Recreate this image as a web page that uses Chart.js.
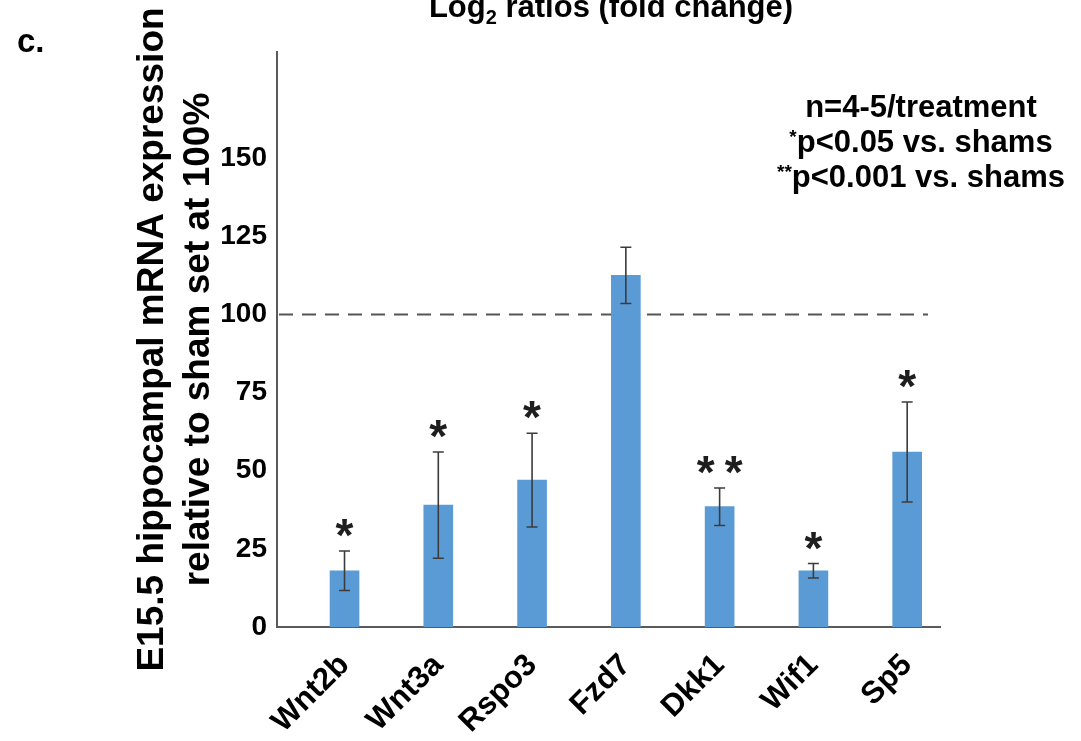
<!DOCTYPE html>
<html>
<head>
<meta charset="utf-8">
<script src="https://cdn.jsdelivr.net/npm/chart.js@4.4.1/dist/chart.umd.min.js"></script>
<style>
  html, body { margin: 0; padding: 0; background: #fff; }
  #wrap { width: 1081px; height: 741px; position: relative; }
</style>
</head>
<body>
<div id="wrap"><canvas id="chart" width="1081" height="741"></canvas></div>
<script>
// Gene panel and relative expression (sham = 100%)
const genes = ['Wnt2b', 'Wnt3a', 'Rspo3', 'Fzd7', 'Dkk1', 'Wif1', 'Sp5'];
const expression = [18, 39, 47, 112.5, 38.5, 18, 56];
const sem = [6.3, 17, 15, 9, 6, 2.3, 16];
const significance = ['*', '*', '*', '', '**', '*', '*'];
const yTicks = [0, 25, 50, 75, 100, 125, 150];
const shamLevel = 100;
const noteLines = [
  ['', 'n=4-5/treatment'],
  ['*', 'p<0.05 vs. shams'],
  ['**', 'p<0.001 vs. shams']
];

const FAMILY = '"Liberation Sans", Arial, Helvetica, sans-serif';
const INK = '#000000';
const AXIS = '#5a5a5a';

// Dashed reference line at the sham level, under the bars
const shamLine = {
  id: 'shamLine',
  beforeDatasetsDraw(chart) {
    const { ctx, chartArea, scales: { y } } = chart;
    const py = y.getPixelForValue(shamLevel);
    ctx.save();
    ctx.strokeStyle = '#555555';
    ctx.lineWidth = 2;
    ctx.setLineDash([14, 9]);
    ctx.beginPath();
    ctx.moveTo(chartArea.left + 2, py);
    ctx.lineTo(chartArea.right - 12, py);
    ctx.stroke();
    ctx.restore();
  }
};

// SEM whiskers and significance stars
const errorBars = {
  id: 'errorBars',
  afterDatasetsDraw(chart) {
    const { ctx, scales: { y } } = chart;
    const meta = chart.getDatasetMeta(0);
    ctx.save();
    meta.data.forEach((bar, i) => {
      const top = y.getPixelForValue(expression[i] + sem[i]);
      const bot = y.getPixelForValue(expression[i] - sem[i]);
      const cap = 5.5;
      ctx.strokeStyle = '#3c3c3c';
      ctx.lineWidth = 1.6;
      ctx.beginPath();
      ctx.moveTo(bar.x, top); ctx.lineTo(bar.x, bot);
      ctx.moveTo(bar.x - cap, top); ctx.lineTo(bar.x + cap, top);
      ctx.moveTo(bar.x - cap, bot); ctx.lineTo(bar.x + cap, bot);
      ctx.stroke();

      const stars = significance[i];
      if (stars) {
        ctx.fillStyle = '#1e1e1e';
        ctx.font = `bold 46px ${FAMILY}`;
        ctx.textAlign = 'center';
        ctx.textBaseline = 'alphabetic';
        const centerY = top - 27;
        const gap = 28;
        const n = stars.length;
        for (let k = 0; k < n; k++) {
          const sx = bar.x + (k - (n - 1) / 2) * gap;
          ctx.fillText('*', sx, centerY + 27);
        }
      }
    });
    ctx.restore();
  }
};

// Panel letter, heading and statistics note
const annotations = {
  id: 'annotations',
  afterDraw(chart) {
    const { ctx } = chart;
    ctx.save();
    ctx.fillStyle = INK;
    ctx.textBaseline = 'alphabetic';

    // panel letter
    ctx.textAlign = 'left';
    ctx.font = `bold 33px ${FAMILY}`;
    ctx.fillText('c.', 17, 52);

    // heading with subscript
    const big = `bold 31px ${FAMILY}`;
    const small = `bold 20px ${FAMILY}`;
    const parts = [['Log', big, 0], ['2', small, 7], [' ratios (fold change)', big, 0]];
    let total = 0;
    parts.forEach(([t, f]) => { ctx.font = f; total += ctx.measureText(t).width; });
    let x = 611 - total / 2;
    parts.forEach(([t, f, dy]) => {
      ctx.font = f;
      ctx.fillText(t, x, 17 + dy);
      x += ctx.measureText(t).width;
    });

    // statistics note, centred block
    const baseY = [117, 152, 187];
    noteLines.forEach(([sup, text], i) => {
      ctx.font = `bold 19px ${FAMILY}`;
      const ws = sup ? ctx.measureText(sup).width : 0;
      ctx.font = `bold 31px ${FAMILY}`;
      const wt = ctx.measureText(text).width;
      let lx = 921 - (ws + wt) / 2;
      if (sup) {
        ctx.font = `bold 19px ${FAMILY}`;
        ctx.fillText(sup, lx, baseY[i] - 9);
      }
      ctx.font = `bold 31px ${FAMILY}`;
      ctx.fillText(text, lx + ws, baseY[i]);
    });
    ctx.restore();
  }
};

new Chart(document.getElementById('chart'), {
  type: 'bar',
  data: {
    datasets: [{
      data: genes.map((g, i) => ({ x: i, y: expression[i] })),
      backgroundColor: '#5b9bd5',
      borderWidth: 0,
      barThickness: 29
    }]
  },
  options: {
    responsive: false,
    animation: false,
    layout: { padding: { left: 0, top: 52, right: 141, bottom: 0 } },
    plugins: { legend: { display: false }, tooltip: { enabled: false }, title: { display: false } },
    scales: {
      x: {
        type: 'linear',
        offset: false,
        min: -0.72,
        max: 6.35,
        grid: { display: false, drawTicks: false, offset: false },
        border: { display: true, color: AXIS, width: 2 },
        afterBuildTicks: (s) => { s.ticks = genes.map((_, i) => ({ value: i })); },
        afterFit: (s) => { s.height = 114; },
        ticks: {
          autoSkip: false,
          minRotation: 45,
          maxRotation: 45,
          padding: 20,
          color: INK,
          font: { family: FAMILY, size: 31, weight: 'bold' },
          callback: (v) => genes[v]
        }
      },
      y: {
        min: 0,
        max: 184,
        grid: { display: false, drawTicks: false },
        border: { display: true, color: AXIS, width: 2 },
        afterBuildTicks: (s) => { s.ticks = yTicks.map((v) => ({ value: v })); },
        afterFit: (s) => { s.width = 277; },
        ticks: {
          padding: 10,
          color: INK,
          font: { family: FAMILY, size: 28, weight: 'bold' }
        },
        title: {
          display: true,
          text: ['E15.5 hippocampal mRNA expression', 'relative to sham set at 100%'],
          color: INK,
          font: { family: FAMILY, size: 37, weight: 'bold', lineHeight: 1.24 },
          padding: { top: 130, bottom: 0 }
        }
      }
    }
  },
  plugins: [shamLine, errorBars, annotations]
});
</script>
</body>
</html>
